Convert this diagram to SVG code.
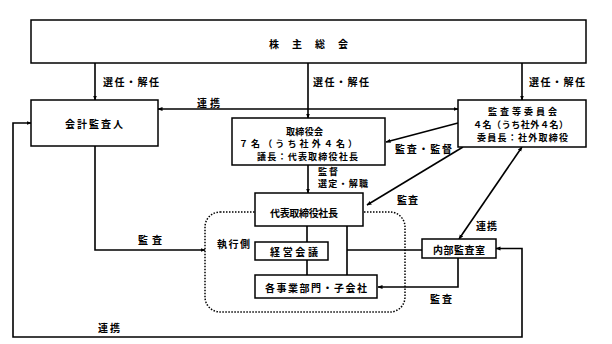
<svg xmlns="http://www.w3.org/2000/svg" width="612" height="344" viewBox="0 0 612 344">
<style>
.box{fill:#fff;stroke:#000;stroke-width:1.5}
.ln{fill:none;stroke:#000;stroke-width:1.6}
.dot{fill:none;stroke:#000;stroke-width:1.5;stroke-dasharray:1.5 1.5}
text{font-family:"Noto Sans CJK JP","Noto Sans",sans-serif;font-size:10px;font-weight:bold;fill:#000;dominant-baseline:central}
.s{font-size:9px}
</style>
<defs>
<marker id="ah" viewBox="0 0 10 10" refX="9" refY="5" markerWidth="5" markerHeight="5" orient="auto-start-reverse" markerUnits="userSpaceOnUse">
<path d="M0,1 L10,5 L0,9 z" fill="#000"/>
</marker>
</defs>
<rect class="dot" x="205" y="212" width="200" height="100" rx="15"/>
<g id="connectors">
<path class="ln" d="M95,63 V100" marker-end="url(#ah)"/>
<path class="ln" d="M308,63 V118" marker-end="url(#ah)"/>
<path class="ln" d="M522,63 V100" marker-end="url(#ah)"/>
<path class="ln" d="M158,109 H458" marker-start="url(#ah)" marker-end="url(#ah)"/>
<path class="ln" d="M458,123 L386,142" marker-end="url(#ah)"/>
<path class="ln" d="M308,165 V193" marker-end="url(#ah)"/>
<path class="ln" d="M463,147 L367,205" marker-end="url(#ah)"/>
<path class="ln" d="M522,147 L459,239" marker-start="url(#ah)" marker-end="url(#ah)"/>
<path class="ln" d="M95,146 V250 H205" marker-end="url(#ah)"/>
<path class="ln" d="M307,226 V242 M307,260 V275 M347,226 V275 M347,250 H422"/>
<path class="ln" d="M458,258 V287 H378" marker-end="url(#ah)"/>
<path class="ln" d="M31,123 H13 V337 H522 V248.5 H496" marker-start="url(#ah)" marker-end="url(#ah)"/>
<text x="103" y="81" textLength="56">選任・解任</text>
<text x="313" y="81" textLength="56">選任・解任</text>
<text x="529" y="81" textLength="56">選任・解任</text>
<text x="197" y="102" textLength="23">連携</text>
<text x="395" y="148" textLength="57">監査・監督</text>
<text class="s" x="318" y="171" textLength="20">監督</text>
<text class="s" x="318" y="183" textLength="50">選定・解職</text>
<text x="397" y="199" textLength="21">監査</text>
<text x="138" y="239" textLength="24">監査</text>
<text x="476" y="225" textLength="21">連携</text>
<text x="430" y="298" textLength="22">監査</text>
<text x="98" y="327" textLength="22">連携</text>
<text x="217" y="243" textLength="33">執行側</text>
</g>
<g id="kabunushi">
<rect class="box" x="31" y="20" width="555" height="43"/>
<text x="269" y="43" textLength="79">株 主 総 会</text>
</g>
<g id="kaikei">
<rect class="box" x="31" y="100" width="127" height="46"/>
<text x="65" y="123" textLength="58">会計監査人</text>
</g>
<g id="torishimariyaku">
<rect class="box" x="232" y="118" width="153" height="47"/>
<text class="s" x="286" y="131" textLength="37">取締役会</text>
<text class="s" x="239" y="143.5" textLength="118">７名（うち社外４名）</text>
<text class="s" x="257" y="156" textLength="101">議長：代表取締役社長</text>
</g>
<g id="kansa">
<rect class="box" x="458" y="100" width="128" height="47"/>
<text class="s" x="488" y="111.5" textLength="69">監査等委員会</text>
<text class="s" x="473" y="124.5" textLength="95">４名（うち社外４名）</text>
<text class="s" x="477" y="137" textLength="91">委員長：社外取締役</text>
</g>
<g id="shacho">
<rect class="box" x="255" y="193" width="108" height="33"/>
<text x="270" y="212" textLength="68">代表取締役社長</text>
</g>
<g id="keiei">
<rect class="box" x="255" y="242" width="73" height="18"/>
<text x="270" y="251" textLength="48">経営会議</text>
</g>
<g id="jigyobu">
<rect class="box" x="255" y="275" width="122" height="23"/>
<text x="265" y="287" textLength="102">各事業部門・子会社</text>
</g>
<g id="naibu">
<rect class="box" x="422" y="239" width="74" height="19"/>
<text x="433" y="249" textLength="52">内部監査室</text>
</g>
</svg>
